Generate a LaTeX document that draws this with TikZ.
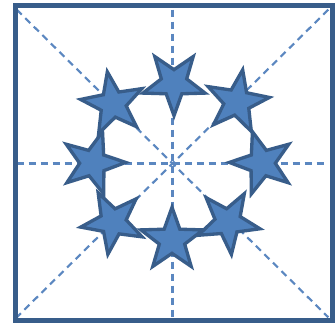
\documentclass[tikz,border=0pt]{standalone}
\usepackage{tikz}
\usetikzlibrary{shapes.geometric}
\definecolor{frameblue}{HTML}{385D8A}
\definecolor{starfill}{HTML}{4F81BD}
\definecolor{guideblue}{HTML}{5B87C0}

\begin{document}
\begin{tikzpicture}[
  x=0.75pt, y=-0.75pt,
  boxframe/.style = {draw=frameblue, line width=3.75pt, inner sep=0pt,
                     minimum width=237.75pt, minimum height=236.25pt},
  gridbox/.style  = {inner sep=0pt, minimum width=233.25pt,
                     minimum height=230.25pt},
  guide/.style    = {draw=guideblue, line width=1.6pt,
                     dash pattern=on 5.25pt off 3.75pt},
  emblem/.style   = {star, star points=5, star point ratio=2.45,
                     minimum size=49pt, inner sep=0pt, draw=frameblue,
                     fill=starfill, line width=2.5pt}
]
\useasboundingbox (0,0) rectangle (336,323);

% dashed guide lines
\node[gridbox] (grid) at (172.5,163.5) {};
\draw[guide] (grid.north west) -- (grid.south east);
\draw[guide] (grid.north east) -- (grid.south west);
\draw[guide] (grid.north) -- (grid.south);
\draw[guide] (grid.west) -- (grid.east);

\node[boxframe] (frame) at (174,163) {};

% ring of stars, each pointing to the middle
\node[emblem, shape border rotate=180]  (starN)  at (174,83)  {};
\node[emblem, shape border rotate=134]  (starNE) at (237,102) {};
\node[emblem, shape border rotate=89]   (starE)  at (262,163) {};
\node[emblem, shape border rotate=42]   (starSE) at (228,222) {};
\node[emblem, shape border rotate=0]    (starS)  at (172,240) {};
\node[emblem, shape border rotate=-45]  (starSW) at (113,222) {};
\node[emblem, shape border rotate=-89]  (starW)  at (93,163)  {};
\node[emblem, shape border rotate=226]  (starNW) at (113,104) {};

\end{tikzpicture}
\end{document}
